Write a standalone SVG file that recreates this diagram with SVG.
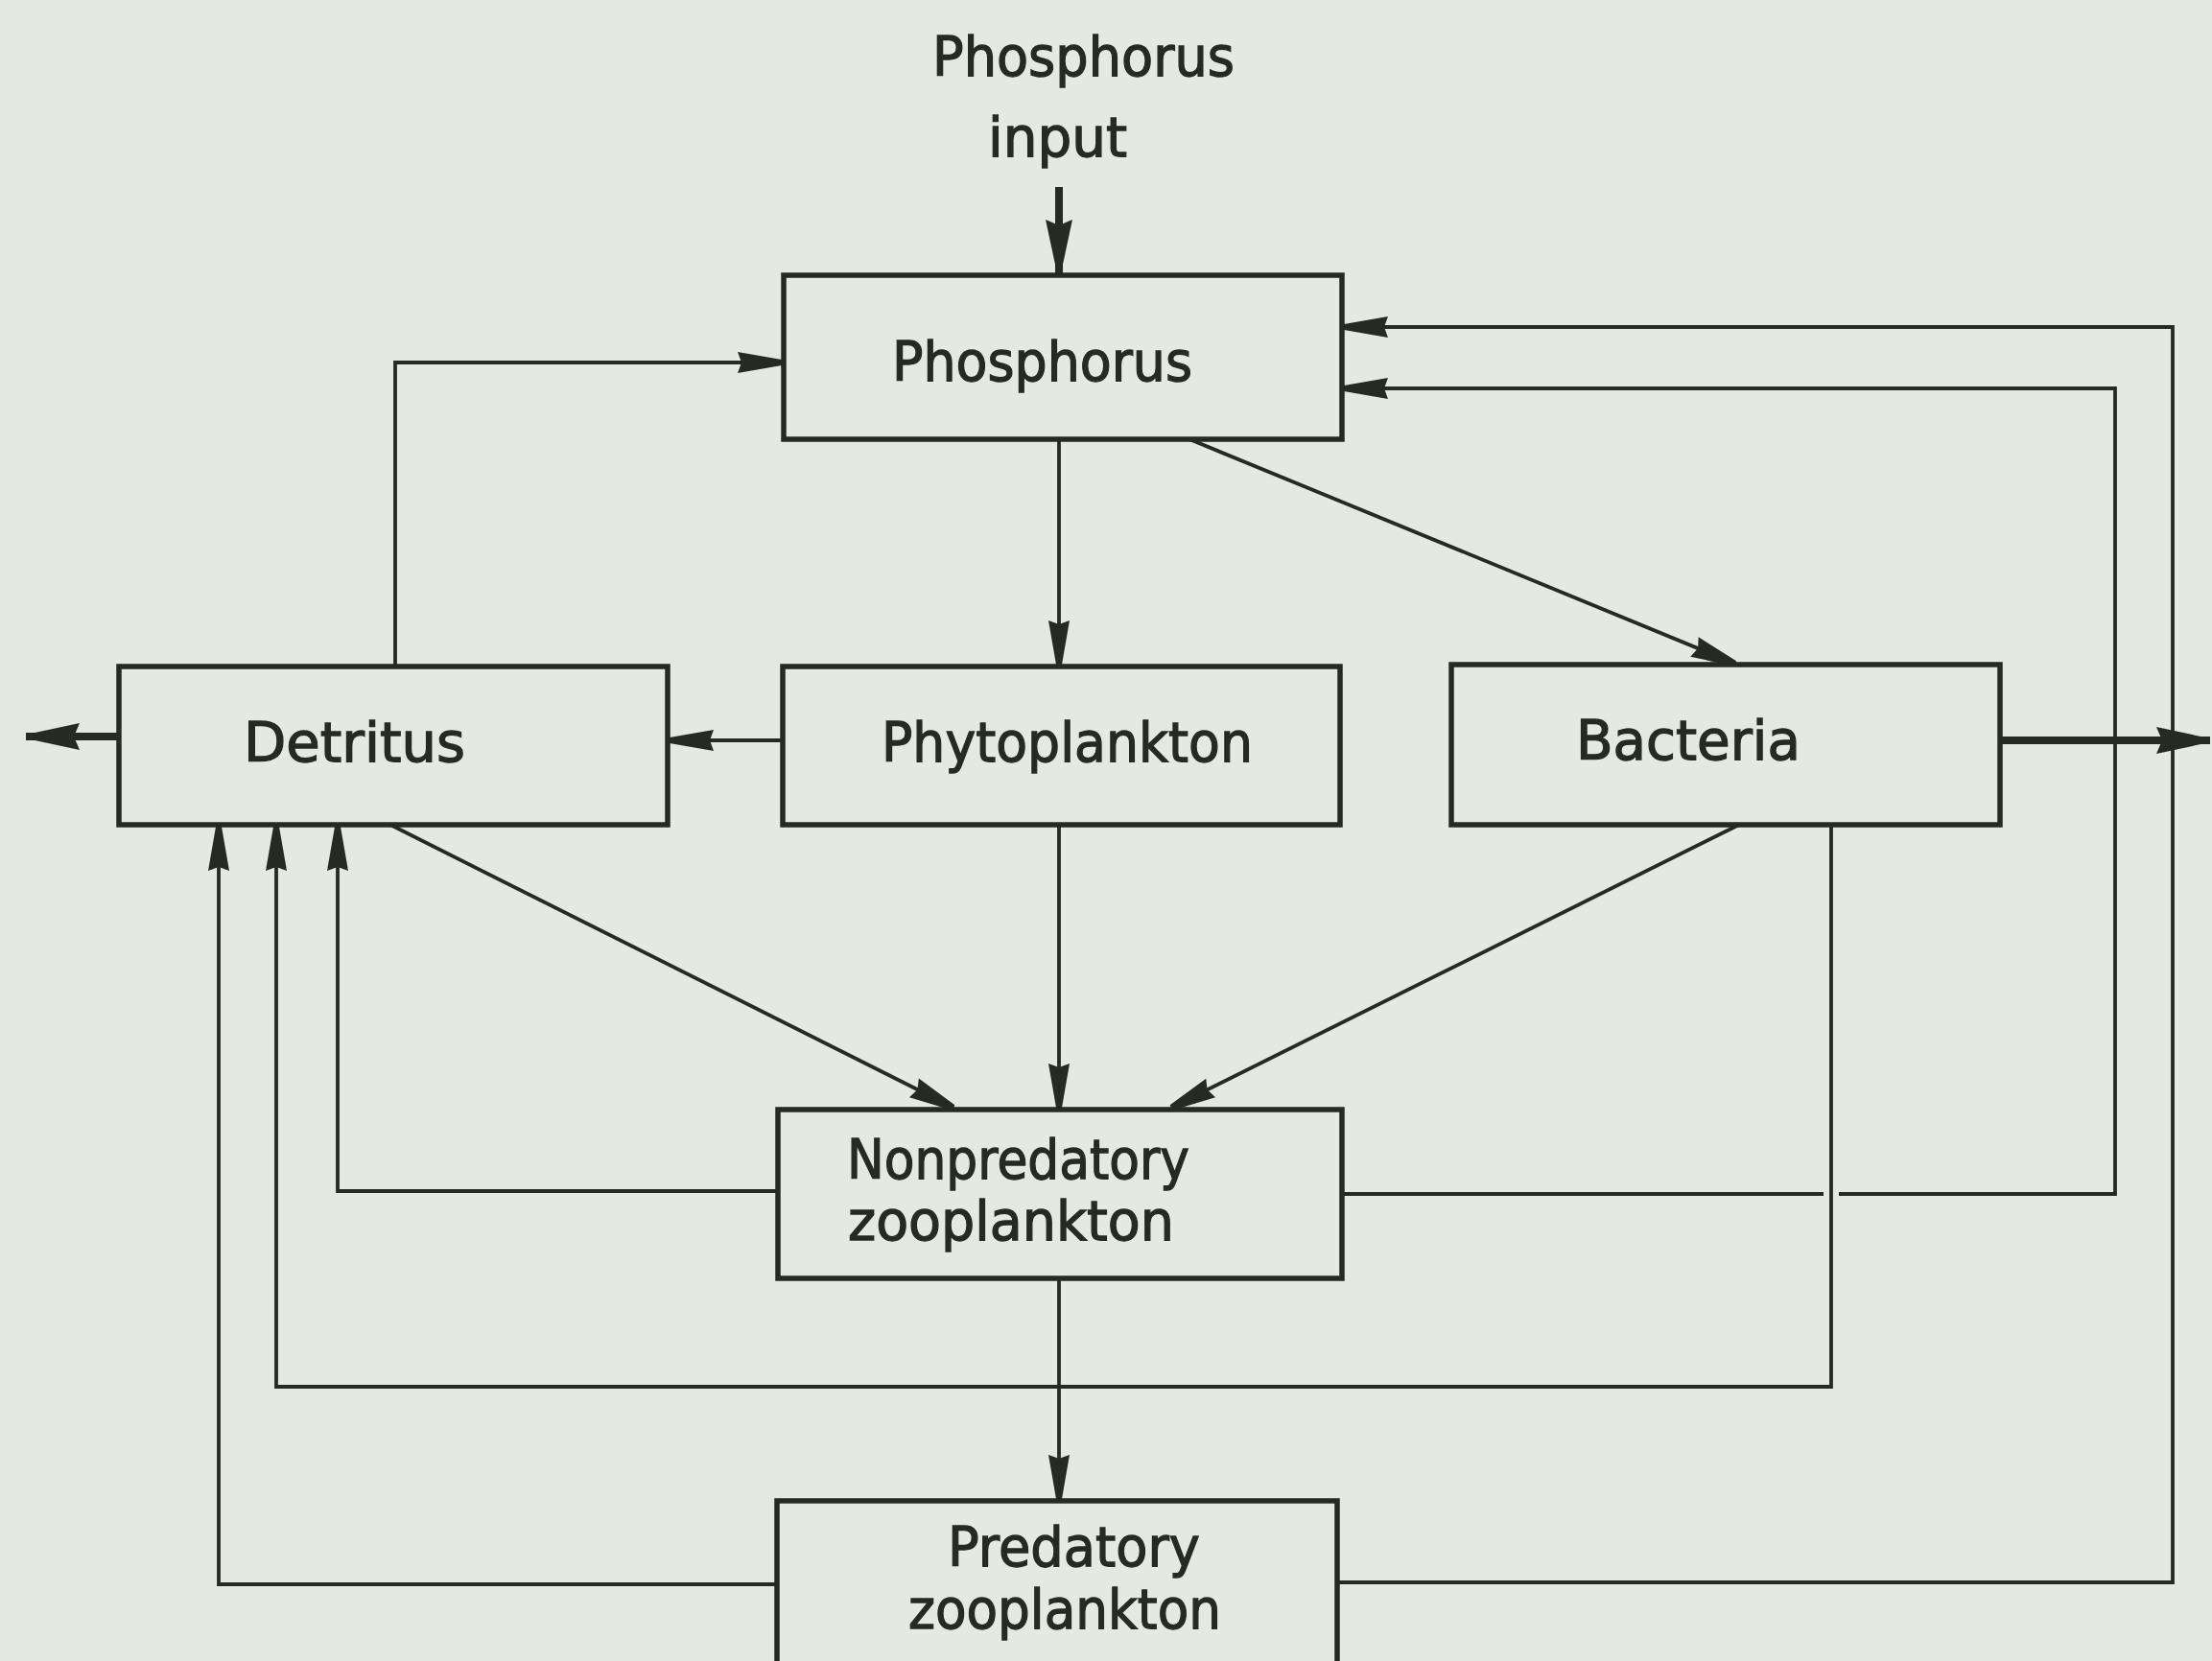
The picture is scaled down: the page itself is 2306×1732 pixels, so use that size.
<svg xmlns="http://www.w3.org/2000/svg" width="2306" height="1732" viewBox="0 0 2306 1732">
<style>
.box{fill:none;stroke:#262a23;stroke-width:5.5}
.lbl{font-family:"DejaVu Sans","Liberation Sans",sans-serif;font-size:57px;fill:#262a23;stroke:#262a23;stroke-width:1.3}
.c{fill:none;stroke:#262a23;stroke-width:3.8}
.t{fill:none;stroke:#262a23;stroke-width:8}
</style>
<defs>
<marker id="a" markerUnits="userSpaceOnUse" markerWidth="50" markerHeight="24" refX="46" refY="11" orient="auto" overflow="visible">
<path d="M0,0 L46,8 L46,14 L0,22 L4,11 Z" fill="#262a23"/>
</marker>
<marker id="b" markerUnits="userSpaceOnUse" markerWidth="58" markerHeight="30" refX="56" refY="14" orient="auto" overflow="visible">
<path d="M0,0 L56,12 L56,16 L0,28 L6,14 Z" fill="#262a23"/>
</marker>
</defs>
<rect width="2306" height="1732" fill="#e5e9e2"/>
<g id="input">
<text class="lbl" x="972" y="79" textLength="315" lengthAdjust="spacingAndGlyphs">Phosphorus</text>
<text class="lbl" x="1030" y="163" textLength="145" lengthAdjust="spacingAndGlyphs">input</text>
</g>
<g id="connectors">
<line class="t" x1="1104" y1="195" x2="1104" y2="285" marker-end="url(#b)"/>
<line class="c" x1="1104" y1="458" x2="1104" y2="693" marker-end="url(#a)"/>
<line class="c" x1="1240" y1="458" x2="1809" y2="692" marker-end="url(#a)"/>
<polyline class="c" points="412,695 412,378 815,378" marker-end="url(#a)"/>
<line class="c" x1="816" y1="772" x2="698" y2="772" marker-end="url(#a)"/>
<line class="t" x1="122" y1="768" x2="27" y2="768" marker-end="url(#b)"/>
<line class="t" x1="2087" y1="772" x2="2304" y2="772" marker-end="url(#b)"/>
<polyline class="c" points="1399,1245 1901,1245"/>
<polyline class="c" points="1917,1245 2205,1245 2205,405 1401,405" marker-end="url(#a)"/>
<polyline class="c" points="1394,1650 2265,1650 2265,341 1401,341" marker-end="url(#a)"/>
<line class="c" x1="1813" y1="860" x2="1221" y2="1155" marker-end="url(#a)"/>
<line class="c" x1="1104" y1="860" x2="1104" y2="1155" marker-end="url(#a)"/>
<line class="c" x1="407" y1="860" x2="994" y2="1155" marker-end="url(#a)"/>
<polyline class="c" points="811,1242 352,1242 352,862" marker-end="url(#a)"/>
<polyline class="c" points="1909,860 1909,1446 288,1446 288,862" marker-end="url(#a)"/>
<polyline class="c" points="810,1652 228,1652 228,862" marker-end="url(#a)"/>
<line class="c" x1="1104" y1="1333" x2="1104" y2="1563" marker-end="url(#a)"/>
</g>
<g id="phosphorus">
<rect class="box" x="817" y="287" width="582" height="171"/>
<text class="lbl" x="930" y="397" textLength="313" lengthAdjust="spacingAndGlyphs">Phosphorus</text>
</g>
<g id="detritus">
<rect class="box" x="124" y="695" width="572" height="165"/>
<text class="lbl" x="254" y="794" textLength="231" lengthAdjust="spacingAndGlyphs">Detritus</text>
</g>
<g id="phytoplankton">
<rect class="box" x="816" y="695" width="581" height="165"/>
<text class="lbl" x="919" y="794" textLength="387" lengthAdjust="spacingAndGlyphs">Phytoplankton</text>
</g>
<g id="bacteria">
<rect class="box" x="1513" y="693" width="572" height="167"/>
<text class="lbl" x="1643" y="792" textLength="234" lengthAdjust="spacingAndGlyphs">Bacteria</text>
</g>
<g id="nonpredatory">
<rect class="box" x="811" y="1157" width="588" height="176"/>
<text class="lbl" x="883" y="1229" textLength="357" lengthAdjust="spacingAndGlyphs">Nonpredatory</text>
<text class="lbl" x="884" y="1293" textLength="340" lengthAdjust="spacingAndGlyphs">zooplankton</text>
</g>
<g id="predatory">
<rect class="box" x="810" y="1565" width="584" height="190"/>
<text class="lbl" x="988" y="1633" textLength="263" lengthAdjust="spacingAndGlyphs">Predatory</text>
<text class="lbl" x="947" y="1698" textLength="326" lengthAdjust="spacingAndGlyphs">zooplankton</text>
</g>
</svg>
